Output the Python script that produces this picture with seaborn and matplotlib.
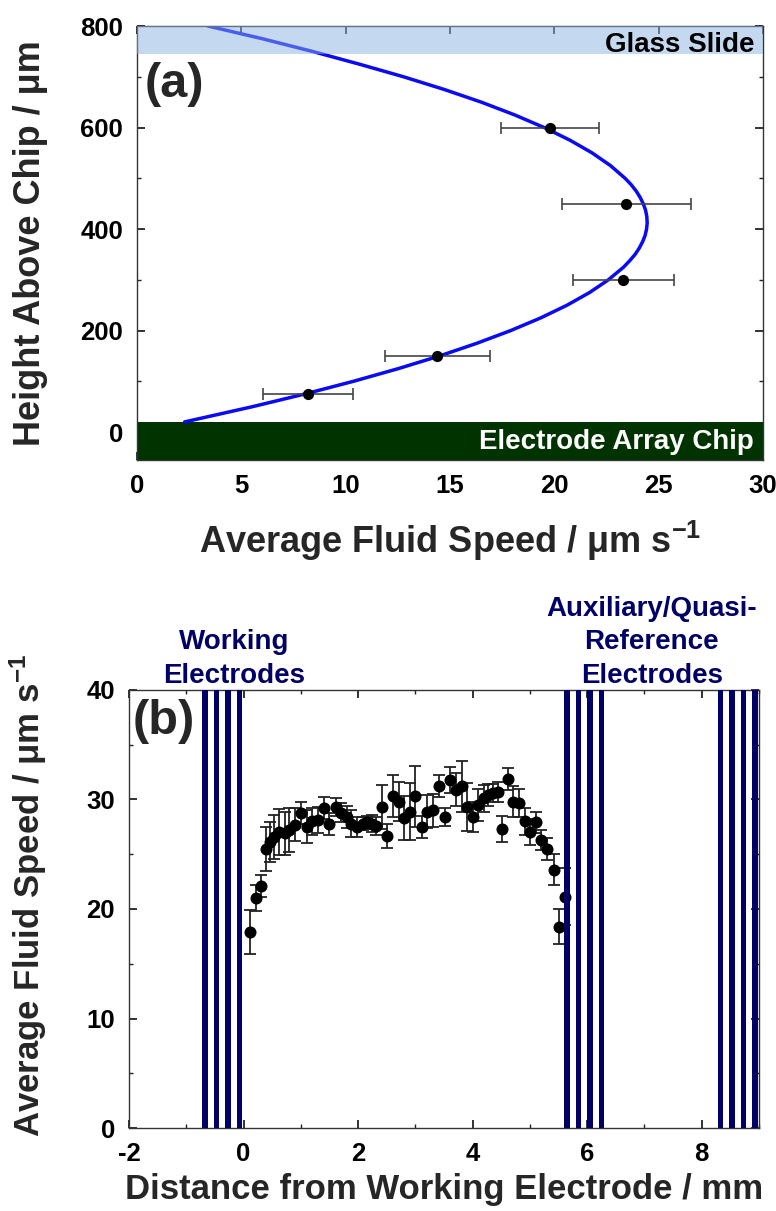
import matplotlib
matplotlib.use("Agg")
import matplotlib.pyplot as plt
import seaborn as sns
from matplotlib.ticker import MultipleLocator

# ---------------- Panel (a) data ----------------
height_pts = [75, 150, 300, 450, 600]            # µm
speed_pts = [8.2, 14.4, 23.3, 23.45, 19.8]       # µm/s
speed_err = [2.15, 2.5, 2.42, 3.1, 2.36]

fit_height = [20, 50, 75, 100, 125, 150, 175, 200, 225, 250, 275, 300, 325, 337.5,
              350, 362.5, 375, 387.5, 400, 412.5, 425, 437.5, 450, 462.5, 475,
              487.5, 500, 525, 550, 575, 600, 625, 650, 675, 700, 725, 750, 775, 800]
fit_speed = [2.28, 5.53, 8.04, 10.37, 12.52, 14.50, 16.29, 17.91, 19.35, 20.61,
             21.69, 22.59, 23.32, 23.61, 23.87, 24.07, 24.23, 24.35, 24.42, 24.45,
             24.43, 24.37, 24.26, 24.11, 23.92, 23.68, 23.39, 22.69, 21.81, 20.75,
             19.51, 18.09, 16.50, 14.72, 12.77, 10.64, 8.4, 6.0, 3.4]

chip_range = [-55, 20]
glass_range = [745, 800]

# ---------------- Panel (b) data ----------------
dist = [0.12, 0.21, 0.31, 0.40, 0.47, 0.54, 0.62, 0.72, 0.80, 0.90, 1.01, 1.11,
        1.20, 1.30, 1.40, 1.50, 1.62, 1.71, 1.80, 1.88, 1.98, 2.08, 2.16, 2.24,
        2.32, 2.42, 2.51, 2.61, 2.72, 2.80, 2.90, 2.99, 3.12, 3.21, 3.31, 3.42,
        3.51, 3.61, 3.71, 3.81, 3.91, 4.01, 4.10, 4.19, 4.27, 4.36, 4.44, 4.51,
        4.62, 4.71, 4.81, 4.91, 5.01, 5.10, 5.20, 5.30, 5.42, 5.51, 5.61]
speed_b = [17.9, 21.0, 22.1, 25.5, 26.1, 26.6, 27.0, 26.9, 27.2, 27.7, 28.8, 27.5,
           28.0, 28.1, 29.2, 27.8, 29.3, 28.8, 28.4, 27.8, 27.5, 27.8, 27.9, 27.8,
           27.6, 29.3, 26.7, 30.3, 29.8, 28.3, 28.9, 30.3, 27.5, 28.9, 29.0, 31.2,
           28.4, 31.8, 30.9, 31.2, 29.3, 28.4, 29.5, 30.1, 30.4, 30.6, 30.7, 27.3,
           31.9, 29.8, 29.7, 28.0, 27.0, 27.9, 26.3, 25.5, 23.6, 18.4, 21.1]
err_b = [2.0, 1.2, 1.0, 2.0, 1.8, 2.0, 2.1, 2.0, 2.0, 1.5, 1.0, 1.5,
         1.2, 1.2, 1.0, 1.0, 0.8, 0.9, 1.0, 1.2, 0.9, 0.6, 0.6, 0.8,
         0.8, 2.0, 1.1, 1.9, 1.8, 2.0, 2.6, 2.8, 1.0, 1.5, 1.5, 1.0,
         0.8, 1.2, 1.5, 2.3, 2.2, 1.4, 1.5, 1.2, 1.0, 0.8, 0.9, 1.2,
         1.0, 1.4, 1.3, 1.2, 1.2, 1.0, 0.9, 1.0, 1.4, 1.6, 2.6]

working_edges = [-0.72, -0.52, -0.32, -0.12]
aux_edges = [5.60, 5.80, 6.00, 6.20]
ref_edges = [8.28, 8.48, 8.68, 8.88]
electrode_width = 0.1
electrode_height = 40

# ---------------- Style ----------------
sns.set_theme(style="ticks")
plt.rcParams['font.family'] = ['Liberation Sans', 'DejaVu Sans']
plt.rcParams['font.weight'] = 'bold'
plt.rcParams['axes.labelweight'] = 'bold'
plt.rcParams['axes.unicode_minus'] = False
plt.rcParams['mathtext.fontset'] = 'custom'
plt.rcParams['mathtext.rm'] = 'Liberation Sans:bold'
plt.rcParams['mathtext.it'] = 'Liberation Sans:bold'
plt.rcParams['mathtext.bf'] = 'Liberation Sans:bold'
plt.rcParams['mathtext.default'] = 'rm'

NAVY = '#000066'
fig = plt.figure(figsize=(7.76, 12.11), dpi=100)
axA = fig.add_axes([137/776, 1-460/1211, 626/776, 434/1211])
axB = fig.add_axes([129/776, 1-1128/1211, 630/776, 438/1211])

def style_axes(ax):
    for s in ax.spines.values():
        s.set_color('#333333')
        s.set_linewidth(1.0)
    ax.tick_params(which='both', direction='in', top=True, right=True,
                   colors='#222222', labelcolor='black')
    ax.tick_params(which='major', length=6, width=1.3, labelsize=18.5, pad=10)
    ax.tick_params(which='minor', length=3, width=1.0)
    for lab in ax.get_xticklabels() + ax.get_yticklabels():
        lab.set_fontweight('bold')

# ---------------- Panel (a) ----------------
axA.set_xlim(0, 30)
axA.set_ylim(-55, 800)
axA.axhspan(chip_range[0], chip_range[1], color='#003300', zorder=1, lw=0)
sns.lineplot(x=fit_speed, y=fit_height, sort=False, estimator=None,
             color='#0A0AF5', lw=2.5, ax=axA, zorder=2)
axA.axhspan(glass_range[0], glass_range[1], color='#8BB3E3', alpha=0.5, zorder=3, lw=0)
axA.errorbar(speed_pts, height_pts, xerr=speed_err, fmt='none', ecolor='#444444',
             elinewidth=1.2, capsize=4.5, capthick=1.2, zorder=4)
sns.scatterplot(x=speed_pts, y=height_pts, color='black', s=65, linewidth=0,
                ax=axA, zorder=5)
axA.xaxis.set_major_locator(MultipleLocator(5))
axA.yaxis.set_major_locator(MultipleLocator(200))
axA.yaxis.set_minor_locator(MultipleLocator(100))
style_axes(axA)
axA.set_xlabel('Average Fluid Speed / μm s$^{-1}$', fontsize=26, fontweight='bold')
axA.set_ylabel('Height Above Chip / μm', fontsize=26, fontweight='bold')
axA.xaxis.set_label_coords(0.5, -0.135)
axA.yaxis.set_label_coords(-0.1415, 0.5)
axA.text(0.012, 0.866, '(a)', transform=axA.transAxes, fontsize=35,
         fontweight='bold', ha='left', va='center', zorder=6)
axA.text(0.987, 748, 'Glass Slide', transform=axA.get_yaxis_transform(),
         fontsize=20, fontweight='bold', ha='right', va='baseline', color='black', zorder=6)
axA.text(0.985, -33, 'Electrode Array Chip', transform=axA.get_yaxis_transform(),
         fontsize=20, fontweight='bold', ha='right', va='baseline', color='white', zorder=6)

# ---------------- Panel (b) ----------------
axB.set_xlim(-2, 9)
axB.set_ylim(0, 40)
axB.errorbar(dist, speed_b, yerr=err_b, fmt='none', ecolor='#222222',
             elinewidth=1.3, capsize=4.5, capthick=1.3, zorder=3)
sns.scatterplot(x=dist, y=speed_b, color='black', s=75, linewidth=0, ax=axB, zorder=4)
for edges in (working_edges, aux_edges, ref_edges):
    axB.bar(edges, [electrode_height]*len(edges), width=electrode_width,
            align='edge', color=NAVY, lw=0, zorder=6)
axB.xaxis.set_major_locator(MultipleLocator(2))
axB.xaxis.set_minor_locator(MultipleLocator(1))
axB.yaxis.set_major_locator(MultipleLocator(10))
axB.yaxis.set_minor_locator(MultipleLocator(5))
style_axes(axB)
axB.set_xlabel('Distance from Working Electrode / mm', fontsize=25, fontweight='bold')
axB.set_ylabel('Average Fluid Speed / μm s$^{-1}$', fontsize=25, fontweight='bold')
axB.xaxis.set_label_coords(0.5, -0.103)
axB.yaxis.set_label_coords(-0.1276, 0.53)
axB.text(0.006, 0.929, '(b)', transform=axB.transAxes, fontsize=35,
         fontweight='bold', ha='left', va='center', zorder=7)
axB.text(-0.16, 40.1, 'Working\nElectrodes', fontsize=20, fontweight='bold',
         ha='center', va='bottom', color=NAVY, clip_on=False, linespacing=1.38)
axB.text(7.13, 40.1, 'Auxiliary/Quasi-\nReference\nElectrodes', fontsize=20,
         fontweight='bold', ha='center', va='bottom', color=NAVY, clip_on=False,
         linespacing=1.38)

fig.savefig('out.png', dpi=100)
